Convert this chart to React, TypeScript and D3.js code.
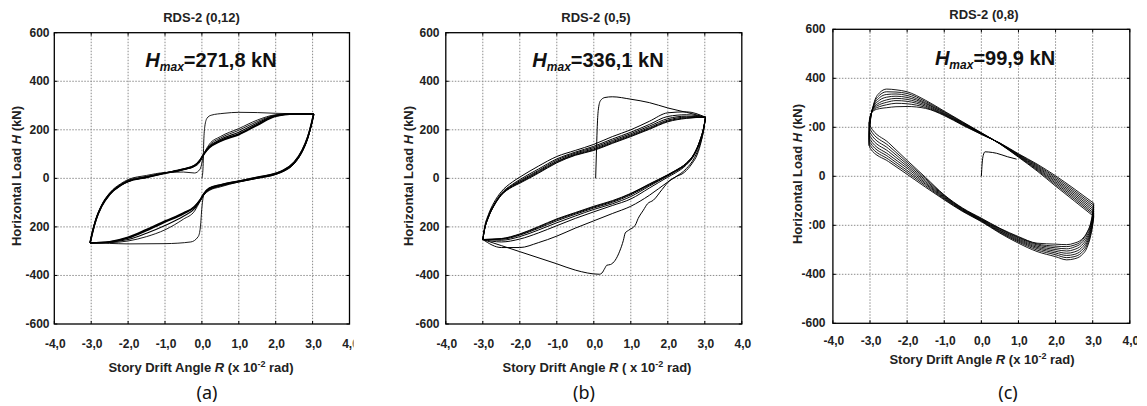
import React from "react";
import * as d3 from "d3";

// ---------------- Panel (a) RDS-2 (0,12) ----------------
const A_VIRGIN_R = [0, 0.03, 0.05, 0.08, 0.14, 0.25, 0.6, 1.0, 1.5, 2.0, 2.5, 3.03];
const A_VIRGIN_H = [0, 40, 150, 215, 248, 260, 268, 272, 271, 268, 266, 265];
const A_FIRST_DN_R = [3.03, 2.97, 2.87, 2.72, 2.5, 2.2, 2.0, 1.5, 1.0, 0.5, 0.2, 0.06, 0.0, -0.04, -0.1, -0.3, -1.0, -2.0, -2.5, -3.03];
const A_FIRST_DN_H = [265, 222, 165, 110, 60, 28, 16, 0, -15, -32, -48, -64, -120, -200, -240, -262, -269, -270, -268, -266];
const A_R_UP = [-3.03, -2.97, -2.87, -2.72, -2.5, -2.2, -2.0, -1.5, -1.0, -0.5, -0.2, -0.05, 0.05, 0.2, 0.5, 1.0, 1.5, 2.0, 2.5, 3.03];
const A_UP_1 = [-266, -222, -165, -110, -60, -22, -5, 12, 24, 26, 22, 38, 96, 140, 172, 205, 240, 262, 266, 265];
const A_UP_2 = [-266, -224, -168, -113, -63, -25, -8, 8, 23, 37, 49, 68, 100, 135, 166, 198, 234, 260, 265, 265];
const A_UP_3 = [-266, -225, -170, -115, -65, -28, -12, 5, 22, 37, 52, 74, 100, 131, 160, 190, 228, 259, 265, 265];
const A_UP_4 = [-266, -225, -170, -115, -65, -28, -12, 5, 22, 38, 53, 75, 100, 128, 155, 183, 222, 258, 265, 265];
const A_UP_5 = [-266, -226, -171, -116, -66, -29, -13, 4, 21, 37, 52, 75, 99, 126, 153, 180, 219, 256, 265, 265];
const A_R_DN = [3.03, 2.97, 2.87, 2.72, 2.5, 2.2, 2.0, 1.5, 1.0, 0.5, 0.2, 0.05, -0.05, -0.2, -0.5, -1.0, -1.5, -2.0, -2.5, -3.03];
const A_DN_2 = [265, 222, 165, 110, 60, 28, 16, 0, -15, -35, -50, -70, -95, -135, -168, -212, -240, -258, -265, -266];
const A_DN_3 = [265, 224, 168, 113, 63, 30, 18, 2, -13, -30, -45, -67, -92, -125, -156, -194, -226, -252, -263, -266];
const A_DN_4 = [265, 225, 170, 115, 65, 32, 20, 3, -12, -28, -42, -65, -90, -118, -146, -180, -215, -246, -262, -266];
const A_DN_5 = [265, 226, 171, 116, 66, 33, 21, 4, -11, -27, -41, -64, -89, -116, -143, -176, -211, -243, -261, -266];

// ---------------- Panel (b) RDS-2 (0,5) ----------------
const B_VIRGIN_R = [0.05, 0.07, 0.09, 0.12, 0.18, 0.3, 0.5, 1.0, 1.5, 2.0, 2.5, 3.02];
const B_VIRGIN_H = [0, 100, 200, 280, 320, 333, 336, 326, 312, 290, 272, 252];
const B_FIRST_DN_R = [3.02, 2.97, 2.9, 2.8, 2.65, 2.45, 2.2, 2.06, 1.85, 1.61, 1.45, 1.34, 1.2, 1.12, 0.94, 0.85, 0.8, 0.7, 0.58, 0.45, 0.35, 0.3, 0.22, 0.15, -0.5, -1.0, -2.0, -2.5, -3.0];
const B_FIRST_DN_H = [252, 200, 150, 100, 60, 25, 5, -8, -45, -90, -105, -131, -165, -193, -214, -225, -255, -300, -337, -355, -358, -370, -390, -395, -378, -352, -302, -277, -252];
const B_R_UP = [-3.0, -2.95, -2.85, -2.7, -2.5, -2.2, -2.0, -1.5, -1.0, -0.5, 0, 0.5, 1.0, 1.5, 2.0, 2.5, 3.02];
const B_UP_1 = [-252, -200, -150, -100, -55, -15, 5, 50, 90, 115, 140, 172, 200, 235, 270, 274, 252];
const B_UP_2 = [-252, -205, -155, -108, -62, -25, -5, 38, 80, 108, 132, 162, 190, 222, 255, 262, 252];
const B_UP_3 = [-252, -207, -158, -110, -65, -28, -10, 32, 75, 104, 127, 156, 184, 215, 246, 256, 252];
const B_UP_4 = [-252, -208, -160, -112, -67, -31, -14, 28, 70, 100, 122, 151, 179, 209, 240, 252, 252];
const B_UP_5 = [-252, -209, -161, -113, -68, -33, -17, 24, 67, 97, 118, 147, 175, 205, 236, 249, 252];
const B_UP_6 = [-252, -210, -162, -114, -70, -35, -20, 21, 64, 95, 115, 144, 172, 202, 233, 247, 252];
const B_R_DN = [3.02, 2.97, 2.87, 2.72, 2.5, 2.2, 2.0, 1.5, 1.0, 0.5, 0, -0.5, -1.0, -1.5, -2.0, -2.5, -3.0];
const B_DN_2 = [252, 200, 140, 85, 40, 5, -15, -70, -115, -145, -175, -205, -238, -265, -285, -285, -252];
const B_DN_3 = [252, 205, 150, 97, 55, 22, 5, -40, -85, -112, -138, -165, -195, -225, -250, -262, -252];
const B_DN_4 = [252, 207, 153, 100, 58, 27, 10, -32, -75, -105, -128, -155, -183, -213, -240, -255, -252];
const B_DN_5 = [252, 208, 155, 102, 60, 29, 12, -28, -68, -99, -122, -148, -175, -206, -234, -251, -252];
const B_DN_6 = [252, 209, 156, 103, 62, 31, 14, -25, -64, -95, -118, -144, -170, -202, -231, -249, -252];
const B_DN_7 = [252, 210, 157, 104, 63, 32, 15, -23, -62, -92, -115, -141, -167, -199, -229, -248, -252];

// ---------------- Panel (c) RDS-2 (0,8) ----------------
const C_VIRGIN_R = [0, 0.02, 0.05, 0.1, 0.2, 0.41, 0.7, 0.95];
const C_VIRGIN_H = [0, 50, 85, 100, 99, 94, 80, 70];
const C_R_UP = [-3.03, -3.0, -2.9, -2.75, -2.55, -2.3, -2.0, -1.5, -1.0, -0.5, 0, 0.5, 1.0, 1.5, 2.0, 2.5, 3.03];
const C_UP_1 = [125, 210, 295, 340, 356, 353, 345, 310, 266, 222, 178, 132, 78, 22, -40, -100, -164];
const C_UP_2 = [135, 215, 292, 330, 345, 344, 338, 305, 263, 220, 177, 133, 80, 26, -34, -93, -157];
const C_UP_3 = [146, 220, 288, 320, 334, 336, 330, 300, 260, 218, 176, 133, 82, 30, -28, -86, -150];
const C_UP_4 = [157, 225, 284, 310, 323, 327, 322, 296, 257, 216, 175, 134, 84, 34, -22, -79, -142];
const C_UP_5 = [168, 230, 280, 300, 312, 318, 314, 291, 254, 214, 174, 134, 86, 38, -16, -72, -134];
const C_UP_6 = [180, 235, 276, 292, 302, 309, 306, 286, 252, 212, 173, 135, 88, 42, -10, -65, -126];
const C_UP_7 = [195, 240, 272, 284, 292, 298, 296, 281, 250, 210, 172, 135, 90, 46, -4, -58, -118];
const C_UP_8 = [210, 245, 268, 276, 280, 284, 285, 277, 248, 208, 171, 136, 92, 50, 2, -51, -110];
const C_R_DN = [3.03, 3.0, 2.95, 2.85, 2.7, 2.5, 2.3, 2.0, 1.5, 1.0, 0.5, 0, -0.5, -1.0, -1.5, -2.0, -2.5, -3.0, -3.03];
const C_DN_1 = [-164, -200, -240, -290, -322, -337, -341, -328, -307, -273, -232, -185, -144, -96, -45, 8, 60, 115, 135];
const C_DN_2 = [-157, -193, -232, -280, -312, -328, -332, -320, -301, -268, -229, -183, -142, -93, -39, 16, 69, 127, 146];
const C_DN_3 = [-150, -186, -224, -270, -302, -319, -323, -313, -295, -264, -226, -181, -140, -90, -33, 24, 79, 139, 157];
const C_DN_4 = [-142, -178, -216, -260, -292, -309, -314, -306, -290, -260, -223, -179, -138, -87, -28, 33, 89, 151, 168];
const C_DN_5 = [-134, -170, -208, -250, -282, -299, -305, -299, -285, -256, -220, -177, -136, -84, -22, 41, 101, 164, 180];
const C_DN_6 = [-126, -162, -200, -240, -272, -289, -296, -292, -280, -252, -217, -175, -134, -81, -16, 49, 113, 178, 195];
const C_DN_7 = [-118, -154, -192, -230, -264, -281, -287, -285, -276, -249, -214, -173, -132, -78, -10, 57, 125, 192, 210];
const C_DN_8 = [-110, -148, -188, -228, -258, -273, -279, -277, -273, -246, -212, -171, -130, -76, -5, 65, 137, 206, 220];

// ---------------- axes ----------------
const X_TICKS = [-4, -3, -2, -1, 0, 1, 2, 3, 4];
const X_TICK_LABELS = ["-4,0", "-3,0", "-2,0", "-1,0", "0,0", "1,0", "2,0", "3,0", "4,0"];
const Y_TICKS = [600, 400, 200, 0, -200, -400, -600];
const Y_TICK_LABELS_AB = ["600", "400", "200", "0", "200", "-400", "-600"];
const Y_TICK_LABELS_C = ["600", "400", ":00", "0", ":00", "-400", "-600"];

const FONT = "'Liberation Sans', Arial, Helvetica, sans-serif";

type Strand = { r: number[]; h: number[]; w: number };

function zip(r: number[], h: number[]): [number, number][] {
  return r.map((v, i) => [v, h[i]] as [number, number]);
}

type Cfg = {
  id: string;
  xr: [number, number];
  yr: [number, number];
  strands: Strand[];
  title: string; titleX: number; titleY: number;
  hmax: string; hmaxX: number; hmaxY: number;
  yLabels: string[]; yLabelX: number;
  yTitleX: number; yTitleY: number;
  xLabelY: number;
  xTitleX: number; xTitleY: number; xTitlePre: string;
  letter: string; letterX: number; letterY: number;
  clipRight: number;
};

function Panel({ c }: { c: Cfg }) {
  const x = d3.scaleLinear().domain([-4, 4]).range(c.xr);
  const y = d3.scaleLinear().domain([-600, 600]).range(c.yr);
  const line = d3
    .line<[number, number]>()
    .x((d) => x(d[0]))
    .y((d) => y(d[1]))
    .curve(d3.curveMonotoneX);
  const x0 = x(-4), x1 = x(4), yT = y(600), yB = y(-600);
  return (
    <g clipPath={`url(#clip-${c.id})`}>
      <defs>
        <clipPath id={`clip-${c.id}`}>
          <rect x={c.xr[0] - 120} y={0} width={c.clipRight - (c.xr[0] - 120)} height={406} />
        </clipPath>
      </defs>
      {X_TICKS.slice(1, -1).map((t) => (
        <line key={"gx" + t} x1={x(t)} x2={x(t)} y1={yT} y2={yB} stroke="#8c8c8c" strokeWidth={1} strokeDasharray="1.5,1.5" />
      ))}
      {Y_TICKS.slice(1, -1).map((t) => (
        <line key={"gy" + t} x1={x0} x2={x1} y1={y(t)} y2={y(t)} stroke="#8c8c8c" strokeWidth={1} strokeDasharray="1.5,1.5" />
      ))}
      {c.strands.map((s, i) => (
        <path key={i} d={line(zip(s.r, s.h)) || ""} fill="none" stroke="#000" strokeWidth={s.w} strokeLinejoin="round" />
      ))}
      <rect x={x0} y={yT} width={x1 - x0} height={yB - yT} fill="none" stroke="#000" strokeWidth={1.3} />
      {X_TICKS.map((t) => (
        <g key={"tx" + t}>
          <line x1={x(t)} x2={x(t)} y1={yB} y2={yB - 3} stroke="#000" strokeWidth={1} />
          <line x1={x(t)} x2={x(t)} y1={yT} y2={yT + 3} stroke="#000" strokeWidth={1} />
        </g>
      ))}
      {Y_TICKS.map((t) => (
        <g key={"ty" + t}>
          <line x1={x0} x2={x0 + 3} y1={y(t)} y2={y(t)} stroke="#000" strokeWidth={1} />
          <line x1={x1} x2={x1 - 3} y1={y(t)} y2={y(t)} stroke="#000" strokeWidth={1} />
        </g>
      ))}
      {X_TICKS.map((t, i) => (
        <text key={"lx" + t} x={x(t) + 1} y={c.xLabelY} textAnchor="middle" fontFamily={FONT} fontWeight="bold" fontSize={12} fill="#222">
          {X_TICK_LABELS[i]}
        </text>
      ))}
      {Y_TICKS.map((t, i) => (
        <text key={"ly" + t} x={c.yLabelX} y={y(t) + 4} textAnchor="end" fontFamily={FONT} fontWeight="bold" fontSize={12} fill="#222">
          {c.yLabels[i]}
        </text>
      ))}
      <text x={c.titleX} y={c.titleY} textAnchor="middle" fontFamily={FONT} fontWeight="bold" fontSize={13} fill="#222">
        {c.title}
      </text>
      <text x={c.hmaxX} y={c.hmaxY} textAnchor="middle" fontFamily={FONT} fontWeight="bold" fontSize={20} fill="#111">
        <tspan fontStyle="italic">H</tspan>
        <tspan fontStyle="italic" fontSize={12} dy={4}>max</tspan>
        <tspan dy={-4}>{c.hmax}</tspan>
      </text>
      <text
        transform={`translate(${c.yTitleX},${c.yTitleY}) rotate(-90)`}
        textAnchor="middle"
        fontFamily={FONT}
        fontWeight="bold"
        fontSize={13}
        fill="#222"
      >
        Horizontal Load <tspan fontStyle="italic">H</tspan> (kN)
      </text>
      <text x={c.xTitleX} y={c.xTitleY} textAnchor="middle" fontFamily={FONT} fontWeight="bold" fontSize={13} fill="#222">
        Story Drift Angle <tspan fontStyle="italic">R</tspan>
        {c.xTitlePre} 10<tspan fontSize={9} dy={-5}>-2</tspan>
        <tspan dy={5}> rad)</tspan>
      </text>
      <text x={c.letterX} y={c.letterY} textAnchor="middle" fontFamily="'Noto Sans', 'Open Sans', sans-serif" fontSize={18} fill="#111">
        {c.letter}
      </text>
    </g>
  );
}

const aStrands: Strand[] = [
  { r: A_VIRGIN_R, h: A_VIRGIN_H, w: 0.9 },
  { r: A_FIRST_DN_R, h: A_FIRST_DN_H, w: 0.9 },
  { r: A_R_UP, h: A_UP_1, w: 0.9 },
  { r: A_R_UP, h: A_UP_2, w: 0.9 },
  { r: A_R_UP, h: A_UP_3, w: 1.1 },
  { r: A_R_UP, h: A_UP_4, w: 1.6 },
  { r: A_R_UP, h: A_UP_5, w: 1.6 },
  { r: A_R_DN, h: A_DN_2, w: 0.9 },
  { r: A_R_DN, h: A_DN_3, w: 1.1 },
  { r: A_R_DN, h: A_DN_4, w: 1.6 },
  { r: A_R_DN, h: A_DN_5, w: 1.6 },
];

const bStrands: Strand[] = [
  { r: B_VIRGIN_R, h: B_VIRGIN_H, w: 1 },
  { r: B_FIRST_DN_R, h: B_FIRST_DN_H, w: 1 },
  { r: B_R_UP, h: B_UP_1, w: 1 },
  { r: B_R_UP, h: B_UP_2, w: 1 },
  { r: B_R_UP, h: B_UP_3, w: 1 },
  { r: B_R_UP, h: B_UP_4, w: 1 },
  { r: B_R_UP, h: B_UP_5, w: 1 },
  { r: B_R_UP, h: B_UP_6, w: 1 },
  { r: B_R_DN, h: B_DN_2, w: 1 },
  { r: B_R_DN, h: B_DN_3, w: 1 },
  { r: B_R_DN, h: B_DN_4, w: 1 },
  { r: B_R_DN, h: B_DN_5, w: 1 },
  { r: B_R_DN, h: B_DN_6, w: 1 },
  { r: B_R_DN, h: B_DN_7, w: 1 },
];

const cStrands: Strand[] = [
  { r: C_VIRGIN_R, h: C_VIRGIN_H, w: 1 },
  ...[C_UP_1, C_UP_2, C_UP_3, C_UP_4, C_UP_5, C_UP_6, C_UP_7, C_UP_8].map((h) => ({ r: C_R_UP, h, w: 0.9 })),
  ...[C_DN_1, C_DN_2, C_DN_3, C_DN_4, C_DN_5, C_DN_6, C_DN_7, C_DN_8].map((h) => ({ r: C_R_DN, h, w: 0.9 })),
];

const panels: Cfg[] = [
  {
    id: "a", xr: [54.3, 349.5], yr: [324, 32.7], strands: aStrands,
    title: "RDS-2 (0,12)", titleX: 201.5, titleY: 22,
    hmax: "=271,8 kN", hmaxX: 211, hmaxY: 67,
    yLabels: Y_TICK_LABELS_AB, yLabelX: 49.5,
    yTitleX: 20.5, yTitleY: 176,
    xLabelY: 347.5,
    xTitleX: 201, xTitleY: 372, xTitlePre: " (x",
    letter: "(a)", letterX: 207, letterY: 399,
    clipRight: 353.5,
  },
  {
    id: "b", xr: [445.8, 741.8], yr: [324, 32.7], strands: bStrands,
    title: "RDS-2 (0,5)", titleX: 596, titleY: 22,
    hmax: "=336,1 kN", hmaxX: 598, hmaxY: 67,
    yLabels: Y_TICK_LABELS_AB, yLabelX: 439.5,
    yTitleX: 412.5, yTitleY: 176,
    xLabelY: 347.5,
    xTitleX: 597, xTitleY: 372, xTitlePre: " ( x",
    letter: "(b)", letterX: 584, letterY: 399,
    clipRight: 800,
  },
  {
    id: "c", xr: [832.9, 1129.8], yr: [323.3, 29.3], strands: cStrands,
    title: "RDS-2 (0,8)", titleX: 984, titleY: 19,
    hmax: "=99,9 kN", hmaxX: 995, hmaxY: 65,
    yLabels: Y_TICK_LABELS_C, yLabelX: 825.5,
    yTitleX: 801.5, yTitleY: 174,
    xLabelY: 344.5,
    xTitleX: 982, xTitleY: 364, xTitlePre: " (x",
    letter: "(c)", letterX: 1008, letterY: 399,
    clipRight: 1137,
  },
];

export default function App() {
  return (
    <svg
      width={1147}
      height={406}
      viewBox="0 0 1147 406"
      style={{ position: "absolute", left: 0, top: 0, background: "#fff" }}
    >
      <rect x={0} y={0} width={1147} height={406} fill="#fff" />
      {panels.map((p) => (
        <Panel key={p.id} c={p} />
      ))}
    </svg>
  );
}
